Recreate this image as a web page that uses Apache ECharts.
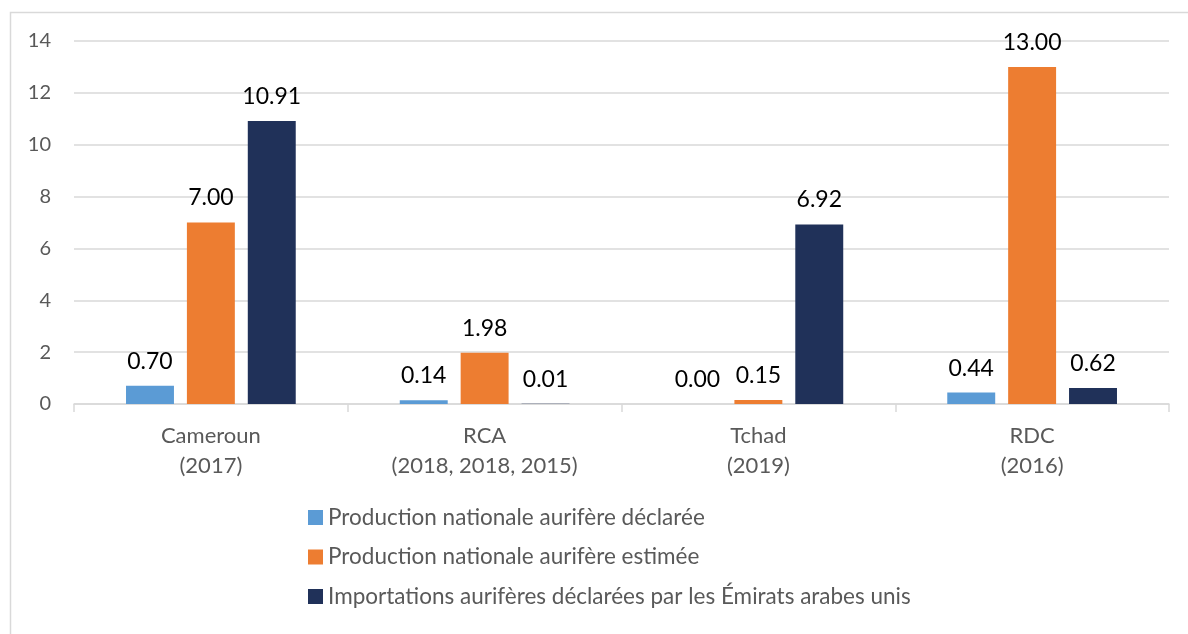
<!DOCTYPE html>
<html>
<head>
<meta charset="utf-8">
<script src="https://cdn.jsdelivr.net/npm/echarts@6/dist/echarts.min.js"></script>
<style>
  html, body { margin: 0; padding: 0; background: #fff; }
  #chart { width: 1188px; height: 634px; }
</style>
</head>
<body>
<div id="chart"></div>
<script>
// pays (année des données)
const categories = ["Cameroun\n(2017)", "RCA\n(2018, 2018, 2015)", "Tchad\n(2019)", "RDC\n(2016)"];
const seriesNames = [
  "Production nationale aurifère déclarée",
  "Production nationale aurifère estimée",
  "Importations aurifères déclarées par les Émirats arabes unis",
];
const declaree = [0.70, 0.14, 0.00, 0.44];
const estimee = [7.00, 1.98, 0.15, 13.00];
const importsEAU = [10.91, 0.01, 6.92, 0.62];
const yTicks = [0, 2, 4, 6, 8, 10, 12, 14];

const colors = ["#5b9bd5", "#ed7d31", "#203159"];
const font = "Lato, 'Open Sans', sans-serif";

const chart = echarts.init(document.getElementById("chart"));

const labelOpt = {
  show: true,
  position: "top",
  distance: 13,
  color: "#000",
  fontSize: 23,
  fontFamily: font,
  formatter: (p) => p.value.toFixed(2),
};

chart.setOption({
  animation: false,
  textStyle: { fontFamily: font },
  graphic: [
    {
      type: "rect",
      shape: { x: 10.5, y: 12.5, width: 1200, height: 640 },
      style: { fill: "none", stroke: "#d9d9d9", lineWidth: 1.5 },
      silent: true,
    },
  ],
  legend: {
    orient: "vertical",
    left: 308,
    top: 506,
    padding: 0,
    itemWidth: 15,
    itemHeight: 15,
    itemGap: 16.5,
    icon: "rect",
    textStyle: { color: "#595959", fontSize: 22.5, lineHeight: 22, fontFamily: font },
    data: seriesNames,
  },
  grid: { left: 74, right: 19, top: 41, bottom: 230 },
  xAxis: {
    type: "category",
    data: categories,
    axisLine: { lineStyle: { color: "#d9d9d9", width: 1.5 } },
    axisTick: { show: true, length: 8, lineStyle: { color: "#d9d9d9", width: 1.5 } },
    axisLabel: { color: "#595959", fontSize: 22, lineHeight: 30, margin: 17, fontFamily: font },
  },
  yAxis: {
    type: "value",
    min: yTicks[0],
    max: yTicks[yTicks.length - 1],
    interval: 2,
    axisLine: { show: false },
    axisTick: { show: false },
    axisLabel: { color: "#595959", fontSize: 20, margin: 23, fontFamily: font },
    splitLine: { lineStyle: { color: "#d9d9d9", width: 1.5 } },
  },
  series: [
    { name: seriesNames[0], type: "bar", data: declaree, color: colors[0], barGap: "27%", barCategoryGap: "38%", label: labelOpt },
    { name: seriesNames[1], type: "bar", data: estimee, color: colors[1], barGap: "27%", barCategoryGap: "38%", label: labelOpt },
    { name: seriesNames[2], type: "bar", data: importsEAU, color: colors[2], barGap: "27%", barCategoryGap: "38%", label: labelOpt },
  ],
});
</script>
</body>
</html>
